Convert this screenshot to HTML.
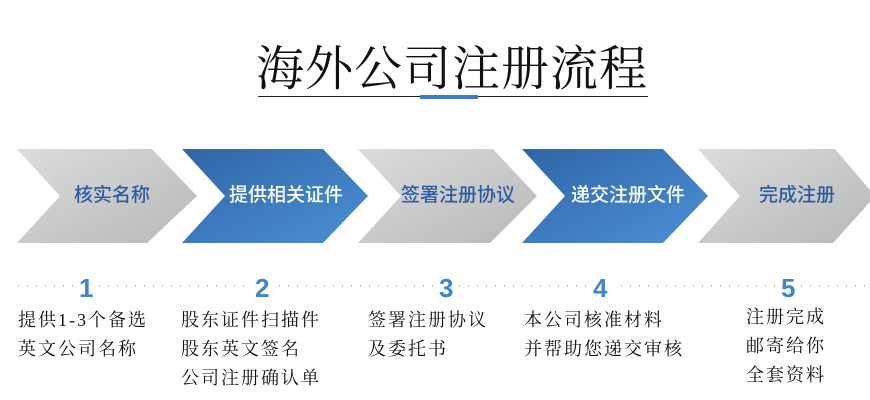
<!DOCTYPE html>
<html><head><meta charset="utf-8"><style>
body{margin:0;width:870px;height:400px;background:#fff;position:relative;overflow:hidden;font-family:"Liberation Serif","Noto Serif CJK SC",serif}
.t{position:absolute;white-space:nowrap}
.c{font-family:"Liberation Sans","Noto Sans CJK SC",sans-serif;font-size:19px;position:absolute;top:180px;font-weight:500}
.n{position:absolute;top:273px;font-family:"Liberation Sans",sans-serif;font-size:26px;font-weight:bold;color:#3f86cf;background:#fff;padding:0 6px}
.d{position:absolute;font-size:18px;letter-spacing:2px;color:#111;line-height:29px;top:306px}
</style></head><body>
<div class="t" style="left:256px;top:30px;font-size:48px;letter-spacing:1px;color:#111">海外公司注册流程</div>
<div style="position:absolute;left:258px;top:96px;width:390px;height:1px;background:#222"></div>
<div style="position:absolute;left:420px;top:95px;width:58px;height:4px;background:#3d7cc4"></div>
<svg width="870" height="400" style="position:absolute;left:0;top:0">
<defs>
<linearGradient id="g" x1="0" y1="0" x2="1" y2="1"><stop offset="0" stop-color="#dcdcdc"/><stop offset="1" stop-color="#b8b8b8"/></linearGradient>
<linearGradient id="b" x1="0" y1="0" x2="1" y2="1"><stop offset="0" stop-color="#2f66a6"/><stop offset="1" stop-color="#4c8fd6"/></linearGradient>
</defs>
<polygon points="17,149 152,149 197,196 147,243 17,243 60,196" fill="url(#g)"/>
<polygon points="182,149 323,149 368,196 323,243 182,243 225,196" fill="url(#b)"/>
<polygon points="358,149 493,149 537,196 490,243 358,243 401,196" fill="url(#g)"/>
<polygon points="522,149 663,149 708,196 663,243 522,243 565,196" fill="url(#b)"/>
<polygon points="698,149 835,149 870,190 870,202 833,243 698,243 740,196" fill="url(#g)"/>
<line x1="18" y1="286" x2="870" y2="286" stroke="#777" stroke-width="1" stroke-dasharray="1,8"/>
</svg>
<div class="c" style="left:74px;color:#2a5da3">核实名称</div>
<div class="c" style="left:229px;color:#fff">提供相关证件</div>
<div class="c" style="left:401px;color:#2a5da3">签署注册协议</div>
<div class="c" style="left:571px;color:#fff">递交注册文件</div>
<div class="c" style="left:759px;color:#2a5da3">完成注册</div>
<div class="n" style="left:73px">1</div>
<div class="n" style="left:249px">2</div>
<div class="n" style="left:433px">3</div>
<div class="n" style="left:587px">4</div>
<div class="n" style="left:775px">5</div>
<div class="d" style="left:18px">提供1-3个备选<br>英文公司名称</div>
<div class="d" style="left:181px">股东证件扫描件<br>股东英文签名<br>公司注册确认单</div>
<div class="d" style="left:368px">签署注册协议<br>及委托书</div>
<div class="d" style="left:524px">本公司核准材料<br>并帮助您递交审核</div>
<div class="d" style="left:746px;top:303px">注册完成<br>邮寄给你<br>全套资料</div>
</body></html>
